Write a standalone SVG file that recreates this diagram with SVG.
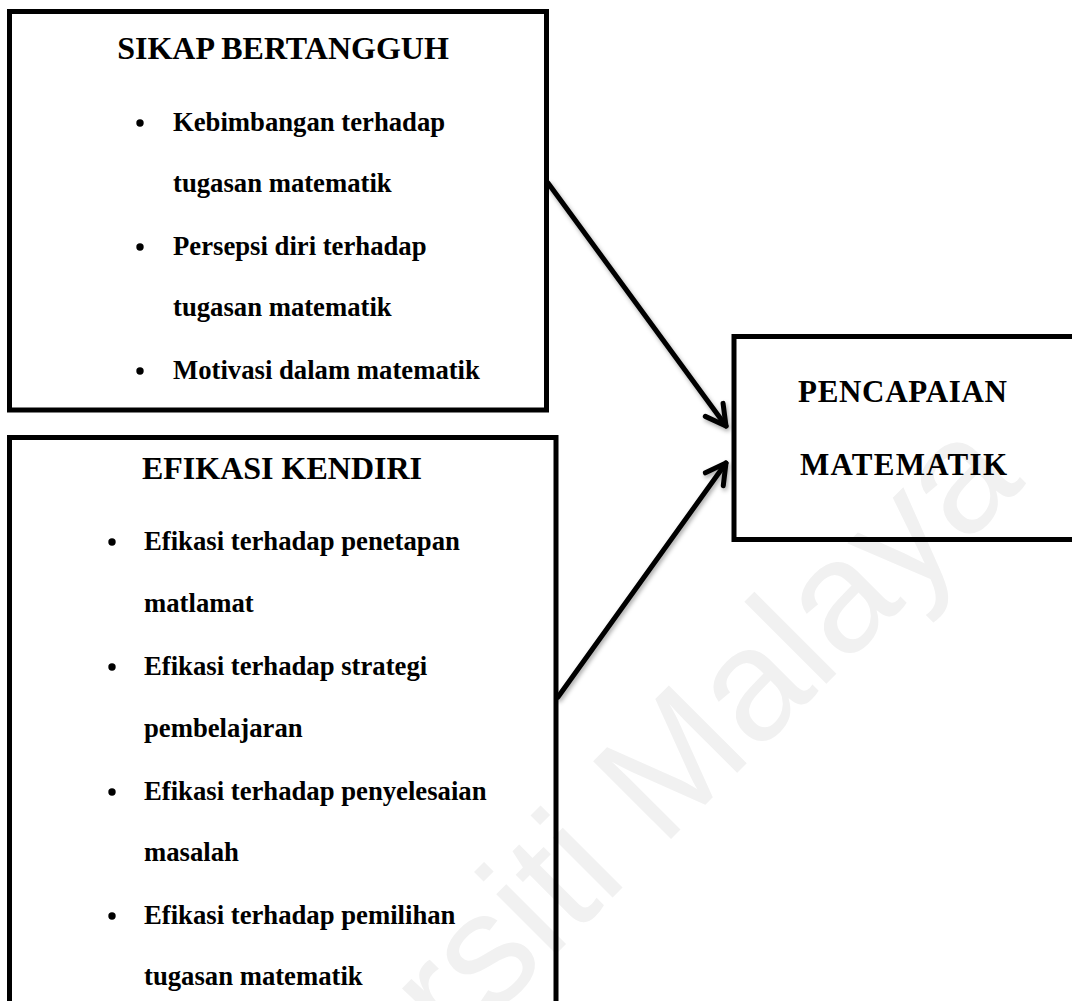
<svg xmlns="http://www.w3.org/2000/svg" width="1072" height="1001" viewBox="0 0 1072 1001">
  <style>
    .box { fill: none; stroke: #000; stroke-width: 5; stroke-linejoin: miter; }
    .title { font-family: "Liberation Serif", "Times New Roman", serif; font-weight: bold; font-size: 32px; fill: #000; }
    .item { font-family: "Liberation Serif", "Times New Roman", serif; font-weight: bold; font-size: 26.7px; fill: #000; }
    .big { font-family: "Liberation Serif", "Times New Roman", serif; font-weight: bold; font-size: 31px; fill: #000; }
    .bullet { fill: #000; }
    .conn { fill: none; stroke: #000; stroke-width: 5; stroke-linecap: round; }
    .wm { font-family: "Liberation Sans", Arial, sans-serif; font-size: 160px; fill: #f1f1f1; }
  </style>
  <defs>
    <marker id="arrow" markerUnits="userSpaceOnUse" viewBox="-26 -16 32 32" refX="0" refY="0" markerWidth="32" markerHeight="32" orient="auto">
      <path d="M -20 -11 L 0 0 L -20 11" fill="none" stroke="#000" stroke-width="5" stroke-linecap="round" stroke-linejoin="round"/>
    </marker>
    <filter id="shadow" x="-20%" y="-20%" width="140%" height="140%">
      <feDropShadow dx="1.5" dy="2.5" stdDeviation="2" flood-color="#000" flood-opacity="0.35"/>
    </filter>
  </defs>
  <rect width="1072" height="1001" fill="#fff"/>

  <text class="wm" transform="translate(165 1345) rotate(-45)">Universiti Malaya</text>

  <g id="node-sikap">
    <rect class="box" x="9.5" y="11.5" width="537" height="398.5"/>
    <text class="title" x="283" y="59" text-anchor="middle">SIKAP BERTANGGUH</text>
    <circle class="bullet" cx="140" cy="123" r="3.7"/>
    <text class="item" x="173" y="131">Kebimbangan terhadap</text>
    <text class="item" x="173" y="192">tugasan matematik</text>
    <circle class="bullet" cx="140" cy="247" r="3.7"/>
    <text class="item" x="173" y="255">Persepsi diri terhadap</text>
    <text class="item" x="173" y="316">tugasan matematik</text>
    <circle class="bullet" cx="140" cy="371" r="3.7"/>
    <text class="item" x="173" y="379">Motivasi dalam matematik</text>
  </g>

  <g id="node-efikasi">
    <rect class="box" x="9.5" y="437.5" width="546.5" height="600"/>
    <text class="title" x="282" y="479" text-anchor="middle">EFIKASI KENDIRI</text>
    <circle class="bullet" cx="112" cy="542" r="3.7"/>
    <text class="item" x="144" y="550">Efikasi terhadap penetapan</text>
    <text class="item" x="144" y="612">matlamat</text>
    <circle class="bullet" cx="112" cy="667" r="3.7"/>
    <text class="item" x="144" y="675">Efikasi terhadap strategi</text>
    <text class="item" x="144" y="737">pembelajaran</text>
    <circle class="bullet" cx="112" cy="792" r="3.7"/>
    <text class="item" x="144" y="800">Efikasi terhadap penyelesaian</text>
    <text class="item" x="144" y="861">masalah</text>
    <circle class="bullet" cx="112" cy="916" r="3.7"/>
    <text class="item" x="144" y="924">Efikasi terhadap pemilihan</text>
    <text class="item" x="144" y="985">tugasan matematik</text>
  </g>

  <g id="node-pencapaian">
    <rect class="box" x="734" y="336.5" width="360" height="203"/>
    <text class="big" x="798" y="402" textLength="209" lengthAdjust="spacing">PENCAPAIAN</text>
    <text class="big" x="800" y="475" textLength="207" lengthAdjust="spacing">MATEMATIK</text>
  </g>

  <g id="connectors" filter="url(#shadow)">
    <path class="conn" d="M 548 183 L 726 426" marker-end="url(#arrow)"/>
    <path class="conn" d="M 558 697 L 726 463" marker-end="url(#arrow)"/>
  </g>
</svg>
